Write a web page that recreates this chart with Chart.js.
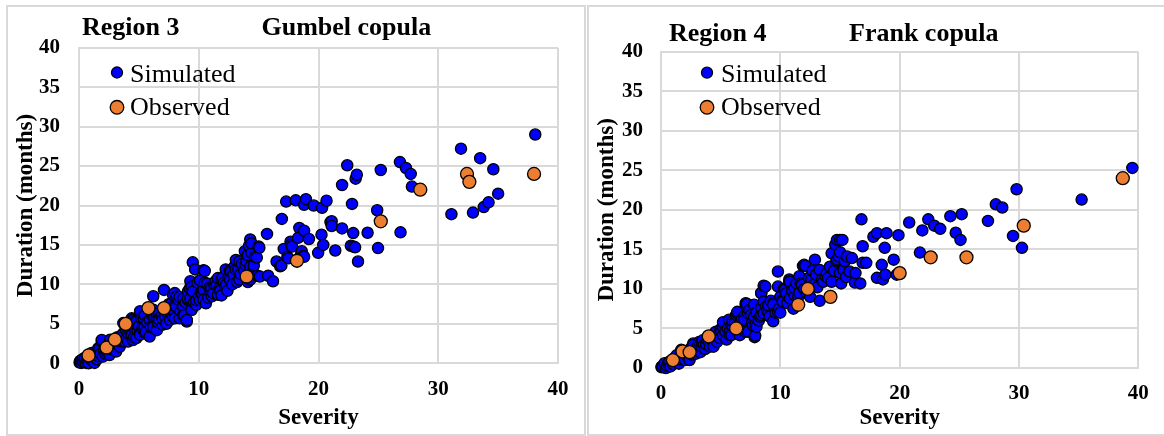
<!DOCTYPE html>
<html>
<head>
<meta charset="utf-8">
<script src="https://cdn.jsdelivr.net/npm/chart.js@4.4.1/dist/chart.umd.min.js"></script>
<style>
html,body{margin:0;padding:0;background:#fff;width:1164px;height:436px;overflow:hidden;}
.frame{position:absolute;border:2px solid #d9d9d9;box-sizing:border-box;}
#f1{left:6px;top:5px;width:580px;height:431px;}
#f2{left:587px;top:5px;width:600px;height:431px;}
canvas{position:absolute;top:0;}
#c1{left:0;}
#c2{left:585px;}
</style>
</head>
<body>
<div class="frame" id="f1"></div>
<div class="frame" id="f2"></div>
<canvas id="c1" width="585" height="436"></canvas>
<canvas id="c2" width="579" height="436"></canvas>
<script>
// ---------- DATA ----------
const xTickValues = [0, 10, 20, 30, 40];
const yTickValues = [0, 5, 10, 15, 20, 25, 30, 35, 40];
const seriesNames = ['Simulated', 'Observed'];

const region3Title = 'Region 3';
const region3Copula = 'Gumbel copula';
// [severity, duration]
const region3Simulated = [
 [0.05,0.1],[0.1,0.3],[0.2,0.05],[0.2,0.4],[0.3,0.5],[0.35,0.15],[0.5,0.3],[0.5,0.7],[0.6,0.05],[0.7,0.4],[0.8,0.15],[0.8,0.0],
 [0.9,0.6],[1.0,0.85],[1.05,1.3],[1.1,0.3],[1.2,0.6],[1.3,0.05],[1.3,1.0],[1.45,1.3],[1.5,0.5],[1.6,0.9],[1.6,1.9],[1.7,1.9],
 [1.8,1.2],[1.9,2.75],[1.9,2.95],[2.0,0.85],[2.1,1.6],[2.2,1.2],[2.3,1.5],[2.4,2.2],[2.45,1.5],[2.55,1.05],[2.6,3.0],[2.7,1.8],[2.8,2.3],
 [3.0,1.8],[3.0,2.3],[3.1,2.5],[3.1,1.5],[3.2,3.3],[3.3,3.2],[3.4,2.1],[3.5,2.8],[3.6,3.6],[3.7,3.8],[3.7,5.1],[3.8,2.75],[3.9,4.3],
 [4.0,3.2],[4.1,2.75],[4.1,3.8],[4.2,4.6],[4.3,3.9],[4.4,3.6],[4.4,5.7],[4.5,4.7],[4.5,2.95],[4.5,5.5],[4.6,3.3],[4.65,5.3],[4.7,4.2],[4.8,3.2],
 [4.8,5.3],[4.9,4.2],[5.0,4.7],[5.1,3.8],[5.1,3.6],[5.1,6.3],[5.1,6.6],[5.2,5.7],[5.3,4.4],[5.35,4.7],[5.4,5.7],[5.5,6.1],[5.5,3.9],[5.5,4.6],
 [5.6,4.0],[5.7,5.2],[5.9,5.5],[5.9,3.4],[6.0,4.6],[6.1,6.1],[6.2,4.9],[6.2,4.6],[6.2,6.1],[6.2,6.8],[6.2,8.5],[6.3,5.8],
 [6.5,5.9],[6.5,5.5],[6.5,4.2],[6.6,5.2],[6.7,6.4],[6.7,5.5],[6.9,6.0],[7.0,4.9],[7.0,5.6],[7.1,9.3],[7.2,6.5],[7.2,5.9],
 [7.3,5.0],[7.4,6.4],[7.5,7.5],[7.6,5.5],[7.6,6.8],[7.7,7.6],[7.8,6.0],[7.85,8.7],[7.9,6.5],[8.0,6.4],[8.0,7.4],[8.0,5.7],[8.0,8.9],[8.1,7.2],[8.15,8.45],
 [8.3,8.05],[8.4,5.7],[8.4,8.4],[8.5,6.6],[8.7,7.2],[8.7,6.1],[8.7,8.2],[8.8,6.1],[8.9,7.7],[9.0,5.3],[9.0,5.5],[9.1,8.05],[9.1,8.2],[9.1,9.1],
 [9.25,9.5],[9.3,10.4],[9.3,8.2],[9.4,6.8],[9.4,6.75],[9.4,9.7],[9.5,9.1],[9.5,12.8],[9.6,7.7],[9.7,11.9],[9.8,7.4],[9.8,8.0],[9.9,10.2],[10.0,8.4],[10.1,8.0],[10.1,10.5],
 [10.2,9.0],[10.25,9.1],[10.3,8.7],[10.4,9.3],[10.4,8.05],[10.4,11.8],[10.5,10.2],[10.5,11.7],[10.6,7.6],[10.7,10.1],[10.8,8.3],[10.9,9.6],[11.0,9.0],[11.05,9.5],
 [11.1,8.5],[11.2,8.9],[11.3,10.0],[11.4,10.4],[11.5,9.9],[11.6,8.7],[11.6,10.8],[11.75,9.5],[11.8,9.2],[11.9,10.6],[11.9,8.6],[12.0,10.9],[12.1,10.2],[12.2,9.7],[12.25,11.9],
 [12.3,10.0],[12.4,9.2],[12.5,10.9],[12.6,10.6],[12.6,11.8],[12.7,11.65],[12.8,10.0],[12.9,11.2],[13.0,12.3],[13.1,11.9],[13.1,13.1],[13.2,10.3],[13.3,11.9],[13.4,10.6],[13.4,12.9],[13.5,11.3],[13.6,12.6],
 [13.8,11.8],[13.85,14.2],[13.9,12.5],[14.0,12.9],[14.1,10.3],[14.1,13.7],[14.2,14.9],[14.3,15.7],[14.3,10.6],[14.3,12.2],[14.4,14.0],[14.4,15.2],
 [14.5,11.6],[14.6,12.4],[14.7,13.5],[14.85,13.4],[14.9,11.1],[15.0,14.8],[15.06,14.65],[15.1,11.0],[15.7,16.4],[15.8,11.1],[16.2,10.4],
 [16.5,12.9],[16.8,12.3],[16.9,12.4],[16.94,18.3],[17.1,14.5],[17.4,13.5],[17.3,20.5],[17.5,13.3],[17.66,15.4],[17.7,15.0],
 [17.8,14.8],[18.1,20.65],[18.4,17.15],[18.3,15.9],[18.55,13.9],[18.6,14.2],[18.7,13.6],[18.8,16.8],[18.8,13.5],[18.8,20.1],
 [18.95,20.8],[19.2,15.75],[19.6,20.0],[19.97,14.0],[20.25,16.3],[20.3,19.7],[20.4,15.0],[20.67,20.6],
 [21.0,17.9],[21.1,18.0],[21.1,17.4],[21.4,14.3],[21.97,17.1],[21.97,22.6],[22.4,25.1],[22.7,14.9],[22.8,20.2],[22.9,16.5],
 [22.9,14.8],[23.06,14.7],[23.1,23.4],[23.2,23.9],[23.3,12.9],[24.1,16.55],[24.9,19.4],[24.97,14.6],[25.2,24.5],
 [26.8,25.5],[26.85,16.6],[27.3,24.75],[27.7,24.0],[27.8,22.4],
 [31.1,18.9],[31.9,27.2],[32.9,19.1],[33.5,26.0],[33.8,19.8],[34.2,20.4],[34.6,24.6],[35.0,21.5],[38.1,29.0]
];
const region3Observed = [
 [0.8,1],[2.3,2],[3.0,3],[3.9,5],[5.8,7],[7.1,7],[14.0,11],[18.2,13],[25.2,18],[28.5,22],[32.4,24],[32.6,23],[38.0,24]
];

const region4Title = 'Region 4';
const region4Copula = 'Frank copula';
const region4Simulated = [
 [0.05,0.1],[0.05,0.17],[0.15,0.2],[0.3,0.6],[0.4,0.0],[0.5,0.3],[0.6,0.6],[0.7,0.8],[0.8,0.2],[1.0,0.5],[1.1,1.2],[1.2,1.2],[1.3,1.6],
 [1.4,0.8],[1.5,0.55],[1.6,1.1],[1.7,1.65],[1.7,2.3],[1.8,1.4],[2.0,1.0],[2.1,1.9],[2.2,1.5],[2.3,1.3],[2.3,2.1],[2.4,1.0],[2.5,2.5],
 [2.6,1.7],[2.7,3.1],[2.7,2.9],[2.8,2.2],[2.9,1.8],[3.0,2.6],[3.1,2.3],[3.2,3.3],[3.3,2.0],[3.4,2.7],[3.4,3.3],[3.5,3.5],[3.6,2.9],[3.7,2.4],
 [3.8,3.0],[3.9,3.5],[4.0,3.4],[4.1,2.7],[4.2,3.9],[4.3,3.5],[4.4,4.0],[4.4,2.7],[4.5,4.4],[4.6,4.6],[4.7,3.3],[4.8,4.2],[4.9,3.8],[5.0,4.9],
 [5.05,4.6],[5.2,5.4],[5.2,4.15],[5.2,5.2],[5.2,5.8],[5.4,4.6],[5.5,3.6],[5.6,5.0],[5.7,6.1],[5.75,4.2],[5.8,4.8],[5.9,4.15],[5.9,5.4],[6.0,5.3],[6.0,5.9],[6.2,5.8],
 [6.3,6.7],[6.4,6.9],[6.4,7.1],[6.5,4.7],[6.6,4.15],[6.6,5.6],[6.7,5.65],[6.8,6.2],[6.9,5.0],[7.0,6.6],[7.0,6.1],[7.1,8.0],[7.1,8.2],[7.1,4.6],[7.2,8.1],
 [7.3,4.6],[7.3,6.9],[7.4,7.3],[7.55,6.7],[7.6,5.6],[7.7,5.4],[7.8,8.0],[7.8,6.5],[7.85,3.9],[7.9,5.5],[7.9,4.1],[8.0,5.2],[8.0,7.0],
 [8.2,6.0],[8.3,6.5],[8.4,9.5],[8.4,9.45],[8.4,6.7],[8.4,7.6],[8.6,8.4],[8.6,6.9],[8.6,10.4],[8.75,10.3],[8.8,7.75],[8.9,7.3],[9.0,7.0],[9.0,7.9],[9.1,6.5],[9.2,8.5],
 [9.4,8.2],[9.4,8.0],[9.4,5.9],[9.6,7.0],[9.8,12.2],[9.8,10.3],[9.8,7.1],[9.9,7.5],[10.0,7.0],[10.0,9.0],[10.2,8.6],[10.2,8.4],[10.3,10.0],[10.4,9.9],[10.5,9.4],[10.5,9.45],
 [10.6,8.2],[10.75,11.2],[10.75,10.9],[10.8,8.8],[10.8,10.9],[11.0,9.8],[11.1,7.5],[11.2,9.2],[11.2,10.1],[11.35,10.7],[11.5,9.0],[11.6,11.6],[11.6,9.5],[11.7,10.7],[11.8,10.5],[11.9,12.9],[12.0,13.05],[12.0,10.0],
 [12.1,12.9],[12.2,9.5],[12.4,11.4],[12.5,9.0],[12.6,11.2],[12.7,12.3],[12.75,10.5],[12.9,13.7],[13.0,11.8],[13.1,10.2],[13.3,8.5],[13.3,12.4],[13.5,11.2],
 [13.6,10.9],[13.8,11.6],[13.9,12.0],[14.0,11.4],[14.15,12.8],[14.3,10.9],[14.3,14.5],[14.5,12.3],[14.6,15.6],[14.7,13.5],[14.75,16.2],[14.75,13.7],[14.9,14.1],
 [15.0,14.65],[15.0,16.2],[15.0,12.0],[15.1,10.7],[15.2,16.2],[15.3,12.4],[15.4,13.5],[15.5,11.5],[15.6,14.1],[15.8,12.2],[16.0,13.9],[16.25,10.8],[16.3,12.0],
 [16.7,10.7],[16.8,18.8],[16.9,15.4],[16.9,13.3],[17.2,13.3],[17.8,16.6],[18.1,17.05],[18.1,11.4],[18.5,13.05],
 [18.6,11.2],[18.75,15.2],[18.8,11.8],[18.9,17.05],[19.5,13.7],[19.75,11.8],[19.9,16.8],[20.8,18.4],[21.7,14.6],
 [21.9,17.4],[22.4,18.8],[22.9,18.0],[23.4,17.6],[24.25,19.2],[24.7,17.1],[25.1,16.2],[25.2,19.45],[27.4,18.6],
 [28.06,20.7],[28.6,20.3],[29.5,16.7],[29.8,22.6],[30.25,15.2],[35.25,21.3],[39.5,25.3]
];
const region4Observed = [
 [1.0,1.0],[1.8,2.1],[2.4,2.0],[4.0,4.0],[6.3,5.0],[11.5,8.0],[12.3,10.0],[14.2,9.0],[20.0,12.0],
 [22.6,14.0],[25.6,14.0],[30.4,18.0],[38.7,24.0]
];

// ---------- CHART ----------
const SERIF = '"Liberation Serif", "Times New Roman", serif';
const SIM_COLOR = '#0000ff';
const OBS_COLOR = '#ed7d31';
const GRID = '#d9d9d9';

function toXY(arr) { return arr.map(p => ({x: p[0], y: p[1]})); }

function makeChart(canvas, cfg) {
  const annot = {
    id: 'annot',
    afterDraw(chart) {
      const ctx = chart.ctx;
      ctx.save();
      ctx.fillStyle = '#000';
      ctx.textBaseline = 'alphabetic';
      ctx.textAlign = 'left';
      ctx.font = 'bold 26px ' + SERIF;
      ctx.fillText(cfg.title, cfg.titleX, cfg.titleY);
      ctx.fillText(cfg.copula, cfg.copulaX, cfg.titleY);
      const items = [
        {name: seriesNames[0], color: SIM_COLOR, r: 5.5, y: cfg.legY[0], ty: cfg.legTY[0]},
        {name: seriesNames[1], color: OBS_COLOR, r: 6.8, y: cfg.legY[1], ty: cfg.legTY[1]}
      ];
      ctx.font = '26px ' + SERIF;
      items.forEach(it => {
        ctx.beginPath();
        ctx.arc(cfg.legMX, it.y, it.r, 0, Math.PI * 2);
        ctx.fillStyle = it.color;
        ctx.fill();
        ctx.lineWidth = 1.3;
        ctx.strokeStyle = '#000';
        ctx.stroke();
        ctx.fillStyle = '#000';
        ctx.fillText(it.name, cfg.legTX, it.ty);
      });
      ctx.restore();
    }
  };
  return new Chart(canvas, {
    type: 'scatter',
    data: {
      datasets: [
        {label: seriesNames[0], data: toXY(cfg.sim), backgroundColor: SIM_COLOR, borderColor: '#000',
         borderWidth: 1.3, pointRadius: 5.6, pointHoverRadius: 5.6, order: 1, clip: false},
        {label: seriesNames[1], data: toXY(cfg.obs), backgroundColor: OBS_COLOR, borderColor: '#000',
         borderWidth: 1.3, pointRadius: 6.5, pointHoverRadius: 6.5, order: 0, clip: false}
      ]
    },
    options: {
      responsive: false,
      animation: false,
      events: [],
      layout: {padding: {top: cfg.padTop, right: cfg.padRight, left: 0, bottom: 0}},
      plugins: {legend: {display: false}, tooltip: {enabled: false}, title: {display: false}},
      scales: {
        x: {
          type: 'linear', min: 0, max: 40,
          afterBuildTicks: s => { s.ticks = xTickValues.map(v => ({value: v})); },
          afterFit: s => { s.height = cfg.xAxisH; },
          ticks: {padding: cfg.xTickPad, color: '#000', font: {family: SERIF, size: 21, weight: 'bold'}},
          grid: {color: GRID, lineWidth: 2, drawTicks: false},
          border: {color: GRID, width: 2},
          title: {display: true, text: 'Severity', color: '#000',
                  font: {family: SERIF, size: 23, weight: 'bold'}, padding: {top: 0, bottom: cfg.xTitlePad}}
        },
        y: {
          type: 'linear', min: 0, max: 40,
          afterBuildTicks: s => { s.ticks = yTickValues.map(v => ({value: v})); },
          afterFit: s => { s.width = cfg.yAxisW; },
          ticks: {padding: cfg.yTickPad, color: '#000', font: {family: SERIF, size: 21, weight: 'bold'}},
          grid: {color: GRID, lineWidth: 2, drawTicks: false},
          border: {color: GRID, width: 2},
          title: {display: true, text: 'Duration (months)', color: '#000',
                  font: {family: SERIF, size: 23, weight: 'bold'}, padding: {top: cfg.yTitlePad, bottom: 0}}
        }
      }
    },
    plugins: [annot]
  });
}

makeChart(document.getElementById('c1'), {
  sim: region3Simulated, obs: region3Observed,
  title: region3Title, copula: region3Copula,
  titleX: 82, copulaX: 261.5, titleY: 35,
  legMX: 117, legY: [72.5, 107.3], legTX: 130, legTY: [81.5, 115],
  padTop: 47.7, padRight: 27, xAxisH: 72.7, yAxisW: 79,
  xTickPad: 13.5, xTitlePad: 4, yTickPad: 19, yTitlePad: 12
});

makeChart(document.getElementById('c2'), {
  sim: region4Simulated, obs: region4Observed,
  title: region4Title, copula: region4Copula,
  titleX: 84, copulaX: 264, titleY: 40.7,
  legMX: 122, legY: [72.7, 107.3], legTX: 136, legTY: [81.7, 115],
  padTop: 51.7, padRight: 25.7, xAxisH: 68, yAxisW: 76,
  xTickPad: 12.5, xTitlePad: 4, yTickPad: 18, yTitlePad: 8
});
</script>
</body>
</html>
